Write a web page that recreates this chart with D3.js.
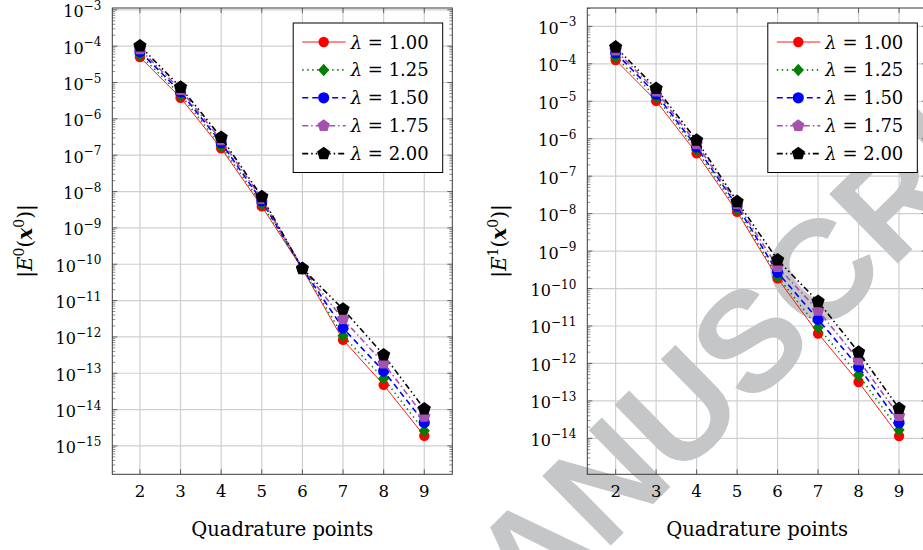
<!DOCTYPE html>
<html>
<head>
<meta charset="utf-8">
<script src="https://cdn.jsdelivr.net/npm/d3@7"></script>
<style>
  html, body { margin: 0; padding: 0; background: #ffffff; }
  svg { display: block; }
  text { font-family: "DejaVu Serif", "Liberation Serif", serif; fill: #000; }
</style>
</head>
<body>
<svg id="chart" width="923" height="550"></svg>
<script>
// Quadrature point counts on the x axis
const quadPoints = [2, 3, 4, 5, 6, 7, 8, 9];

// Relaxation parameter of each series
const lambdaLabels = ["1.00", "1.25", "1.50", "1.75", "2.00"];

// |E^0(x^0)| for each lambda
const errE0_l100 = [5.0e-5, 3.8e-6, 1.55e-7, 3.9e-9, 7.4e-11, 8.3e-13, 4.8e-14, 1.9e-15];
const errE0_l125 = [5.8e-5, 4.6e-6, 1.8e-7, 4.6e-9, 7.6e-11, 1.07e-12, 7.2e-14, 2.6e-15];
const errE0_l150 = [7.1e-5, 5.5e-6, 2.2e-7, 5.5e-9, 7.6e-11, 1.74e-12, 1.15e-13, 4.4e-15];
const errE0_l175 = [8.3e-5, 6.3e-6, 2.6e-7, 6.3e-9, 7.8e-11, 3.1e-12, 1.9e-13, 6.5e-15];
const errE0_l200 = [1.02e-4, 7.4e-6, 3.1e-7, 7.2e-9, 7.6e-11, 5.8e-12, 3.2e-13, 1.05e-14];

// |E^1(x^0)| for each lambda
const errE1_l100 = [1.26e-4, 1.02e-5, 4.1e-7, 1.12e-8, 1.86e-10, 6.3e-12, 3.2e-13, 1.15e-14];
const errE1_l125 = [1.5e-4, 1.3e-5, 5.0e-7, 1.3e-8, 2.1e-10, 9.1e-12, 4.9e-13, 1.66e-14];
const errE1_l150 = [1.95e-4, 1.55e-5, 6.0e-7, 1.6e-8, 2.7e-10, 1.5e-11, 8.1e-13, 2.6e-14];
const errE1_l175 = [2.3e-4, 1.86e-5, 7.2e-7, 1.8e-8, 3.8e-10, 2.6e-11, 1.23e-12, 4.0e-14];
const errE1_l200 = [2.8e-4, 2.2e-5, 9.1e-7, 2.1e-8, 5.8e-10, 4.5e-11, 2.0e-12, 6.3e-14];

// Decade tick exponents on each y axis
const leftTickExps = [-3, -4, -5, -6, -7, -8, -9, -10, -11, -12, -13, -14, -15];
const rightTickExps = [-3, -4, -5, -6, -7, -8, -9, -10, -11, -12, -13, -14];

const xTitle = "Quadrature points";

// ---------------------------------------------------------------------------
const svg = d3.select("#chart");

// regular pentagon marker
const symbolPentagon = {
  draw(ctx, size) {
    const r = Math.sqrt(size / 2.3776);
    for (let k = 0; k < 5; k++) {
      const a = -Math.PI / 2 + k * 2 * Math.PI / 5;
      const px = r * Math.cos(a), py = r * Math.sin(a);
      if (k === 0) ctx.moveTo(px, py); else ctx.lineTo(px, py);
    }
    ctx.closePath();
  }
};
// slightly squat diamond marker
const symbolDiamondWide = {
  draw(ctx, size) {
    const h = Math.sqrt(size / 1.8);
    const w = h * 0.9;
    ctx.moveTo(0, -h); ctx.lineTo(w, 0); ctx.lineTo(0, h); ctx.lineTo(-w, 0); ctx.closePath();
  }
};

const seriesStyle = [
  { color: "#ff0000", width: 0.9, dash: null,                  symbol: d3.symbolCircle, size: 85 },
  { color: "#008000", width: 1.6, dash: "1.4,3.6",             symbol: symbolDiamondWide, size: 70 },
  { color: "#0000ff", width: 1.6, dash: "6,4",                 symbol: d3.symbolCircle, size: 98 },
  { color: "#a452ac", width: 1.6, dash: "6,3,1.5,3",           symbol: symbolPentagon, size: 100 },
  { color: "#000000", width: 1.6, dash: "6,3,1.5,3,1.5,3",     symbol: symbolPentagon, size: 115 }
];

function drawWatermark(parent) {
  const g = parent.append("g")
    .attr("transform", "translate(676,410) rotate(-44.5)");
  g.append("text")
    .attr("x", -372)
    .attr("y", 51)
    .style("font-family", "'Liberation Sans', Arial, sans-serif")
    .style("font-weight", "bold")
    .style("font-size", "142px")
    .style("fill", "#c5c6c8")
    .text("MANUSCRIPT");
}

function drawPanel(cfg) {
  const { x0, x1, y0, y1, xDomain, yDomain, tickExps, series, yLabelNum, yLabelCx, legendRight } = cfg;

  const x = d3.scaleLinear().domain(xDomain).range([x0, x1]);
  const y = d3.scaleLog().domain(yDomain).range([y1, y0]);

  const panel = svg.append("g");
  const clipId = "clip" + Math.round(x0);
  panel.append("clipPath").attr("id", clipId)
    .append("rect").attr("x", x0).attr("y", y0).attr("width", x1 - x0).attr("height", y1 - y0);

  // grid
  const grid = panel.append("g").attr("clip-path", `url(#${clipId})`);
  grid.selectAll("line.gx").data(quadPoints).join("line")
    .attr("x1", d => x(d)).attr("x2", d => x(d))
    .attr("y1", y0).attr("y2", y1)
    .attr("stroke", "#cfcfcf").attr("stroke-width", 1.2);
  grid.selectAll("line.gy").data(tickExps).join("line")
    .attr("x1", x0).attr("x2", x1)
    .attr("y1", d => y(Math.pow(10, d))).attr("y2", d => y(Math.pow(10, d)))
    .attr("stroke", "#cfcfcf").attr("stroke-width", 1.2);

  // watermark lies above the grid, beneath the data
  if (cfg.watermark) drawWatermark(panel);

  // ticks (inward, on all four sides)
  const ticks = panel.append("g").attr("stroke", "#444").attr("stroke-width", 0.8);
  const minor = [];
  const lo = Math.floor(Math.log10(yDomain[0])), hi = Math.ceil(Math.log10(yDomain[1]));
  for (let e = lo; e < hi; e++) {
    for (let m = 2; m <= 9; m++) {
      const v = m * Math.pow(10, e);
      if (v > yDomain[0] && v < yDomain[1]) minor.push(v);
    }
  }
  [[x0, 1], [x1, -1]].forEach(([xe, dir]) => {
    ticks.append("g").selectAll("line").data(tickExps).join("line")
      .attr("x1", xe).attr("x2", xe + dir * 5)
      .attr("y1", d => y(Math.pow(10, d))).attr("y2", d => y(Math.pow(10, d)));
    ticks.append("g").selectAll("line").data(minor).join("line")
      .attr("x1", xe).attr("x2", xe + dir * 3)
      .attr("y1", d => y(d)).attr("y2", d => y(d))
      .attr("stroke-width", 0.6);
  });
  [[y1, -1], [y0, 1]].forEach(([ye, dir]) => {
    ticks.append("g").selectAll("line").data(quadPoints).join("line")
      .attr("x1", d => x(d)).attr("x2", d => x(d))
      .attr("y1", ye).attr("y2", ye + dir * 5);
  });

  // frame
  panel.append("rect")
    .attr("x", x0).attr("y", y0).attr("width", x1 - x0).attr("height", y1 - y0)
    .attr("fill", "none").attr("stroke", "#3a3a3a").attr("stroke-width", 1);

  // y tick labels: 10^e
  const yl = panel.append("g");
  tickExps.forEach(e => {
    const t = yl.append("text")
      .attr("x", x0 - 11).attr("y", y(Math.pow(10, e)) + 7.5)
      .attr("text-anchor", "end").style("font-size", "16px");
    t.append("tspan").text("10");
    t.append("tspan").attr("dy", -7.5).style("font-size", "12px").text("\u2212" + Math.abs(e));
  });

  // x tick labels
  panel.append("g").selectAll("text").data(quadPoints).join("text")
    .attr("x", d => x(d)).attr("y", y1 + 23)
    .attr("text-anchor", "middle").style("font-size", "16.5px")
    .text(d => d);

  // x title
  panel.append("text")
    .attr("x", (x0 + Math.min(x1, 927)) / 2).attr("y", 535.5)
    .attr("text-anchor", "middle").style("font-size", "19.5px")
    .text(xTitle);

  // y title |E^n(x^0)|
  const yt = panel.append("text")
    .attr("transform", `translate(${yLabelCx},241) rotate(-90)`)
    .attr("text-anchor", "middle").style("font-size", "20px");
  yt.append("tspan").text("|");
  yt.append("tspan").style("font-style", "italic").text("E");
  yt.append("tspan").attr("dy", -8).style("font-size", "14px").text(yLabelNum);
  yt.append("tspan").attr("dy", 8).text("(");
  yt.append("tspan").style("font-style", "italic").style("font-weight", "bold").text("x");
  yt.append("tspan").attr("dy", -8).style("font-size", "14px").text("0");
  yt.append("tspan").attr("dy", 8).text(")|");

  // data lines and markers
  const line = d3.line().x((d, i) => x(quadPoints[i])).y(d => y(d));
  const dataG = panel.append("g").attr("clip-path", `url(#${clipId})`);
  series.forEach((vals, si) => {
    const st = seriesStyle[si];
    dataG.append("path").datum(vals)
      .attr("d", line).attr("fill", "none")
      .attr("stroke", st.color).attr("stroke-width", st.width)
      .attr("stroke-dasharray", st.dash);
    dataG.append("g").selectAll("path").data(vals).join("path")
      .attr("transform", (d, i) => `translate(${x(quadPoints[i])},${y(d)})`)
      .attr("d", d3.symbol().type(st.symbol).size(st.size))
      .attr("fill", st.color);
  });

  // legend
  const lw = 149.5, lh = 149.5;
  const lx = legendRight - lw, ly = y0 + 15;
  const lg = panel.append("g");
  lg.append("rect").attr("x", lx).attr("y", ly).attr("width", lw).attr("height", lh)
    .attr("fill", "#fff").attr("stroke", "#000").attr("stroke-width", 1);
  lambdaLabels.forEach((lab, i) => {
    const st = seriesStyle[i];
    const cy = ly + 19 + i * 27.9;
    lg.append("line")
      .attr("x1", lx + 9).attr("x2", lx + 52.5).attr("y1", cy).attr("y2", cy)
      .attr("stroke", st.color).attr("stroke-width", st.width)
      .attr("stroke-dasharray", st.dash);
    lg.append("path")
      .attr("transform", `translate(${lx + 30.5},${cy})`)
      .attr("d", d3.symbol().type(st.symbol).size(st.size))
      .attr("fill", st.color);
    const t = lg.append("text").attr("x", lx + 57.5).attr("y", cy + 6.5).style("font-size", "18px");
    t.append("tspan").style("font-style", "italic").text("\u03bb");
    t.append("tspan").text(" = " + lab);
  });
}

drawPanel({
  x0: 112.3, x1: 452.3, y0: 8, y1: 474.3,
  xDomain: [1.32, 9.69],
  yDomain: [Math.pow(10, -15.78), Math.pow(10, -2.95)],
  tickExps: leftTickExps,
  series: [errE0_l100, errE0_l125, errE0_l150, errE0_l175, errE0_l200],
  yLabelNum: "0", yLabelCx: 32,
  legendRight: 442.7,
  watermark: false
});

drawPanel({
  x0: 587.3, x1: 927, y0: 8, y1: 474.3,
  xDomain: [1.30, 9.69],
  yDomain: [Math.pow(10, -14.96), Math.pow(10, -2.51)],
  tickExps: rightTickExps,
  series: [errE1_l100, errE1_l125, errE1_l150, errE1_l175, errE1_l200],
  yLabelNum: "1", yLabelCx: 506,
  legendRight: 917.3,
  watermark: true
});
</script>
</body>
</html>
